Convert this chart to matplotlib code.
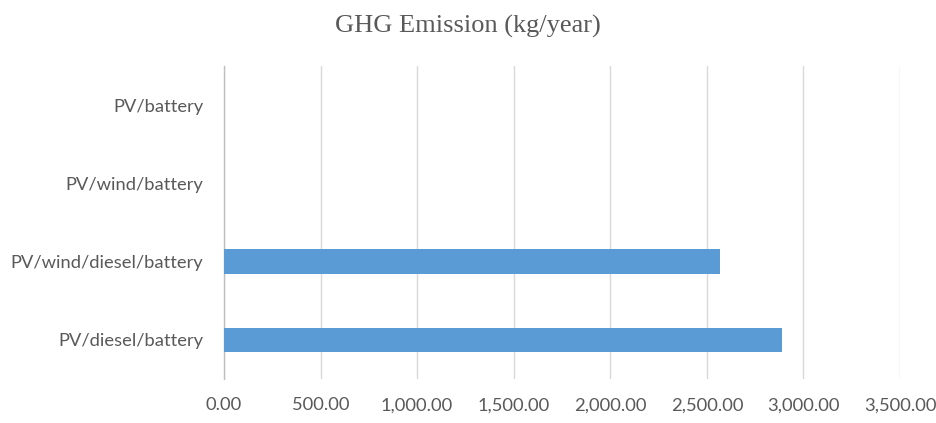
import matplotlib
matplotlib.use("Agg")
import matplotlib.pyplot as plt
from matplotlib.ticker import FuncFormatter

# System configurations (bottom to top) and annual GHG emissions
systems = ["PV/diesel/battery", "PV/wind/diesel/battery", "PV/wind/battery", "PV/battery"]
emissions = [2888.0, 2569.0, 0.0, 0.0]
x_ticks = [0, 500, 1000, 1500, 2000, 2500, 3000, 3500]

text_grey = "#595959"
bar_blue = "#5B9BD5"

fig = plt.figure(figsize=(9.36, 4.23), dpi=100)
ax = fig.add_axes([224 / 936, 1 - 379 / 423, (900 - 224) / 936, (379 - 66) / 423])

ypos = list(range(len(systems)))
ax.barh(ypos, emissions, height=0.31, color=bar_blue, zorder=3)

ax.set_xlim(0, 3500)
ax.set_ylim(-0.5, len(systems) - 0.5)
ax.set_xticks(x_ticks)
ax.xaxis.set_major_formatter(FuncFormatter(lambda v, p: f"{v:,.2f}"))
ax.set_yticks(ypos)
ax.set_yticklabels(systems)

ax.grid(axis="x", color="#D9D9D9", linewidth=1.0, zorder=0)
for side in ("top", "right", "bottom"):
    ax.spines[side].set_visible(False)
ax.spines["left"].set_color("#BFBFBF")
ax.spines["left"].set_linewidth(1.0)

ax.tick_params(axis="both", length=0, labelsize=13.2, labelcolor=text_grey)
ax.tick_params(axis="y", pad=15)
ax.tick_params(axis="x", pad=13.3)
for lbl in ax.get_xticklabels() + ax.get_yticklabels():
    lbl.set_family("Lato")

fig.text(0.5, 0.937, "GHG Emission (kg/year)", ha="center", va="center",
         fontsize=19, color=text_grey, family="Liberation Serif")

fig.savefig("out.png", dpi=100)
